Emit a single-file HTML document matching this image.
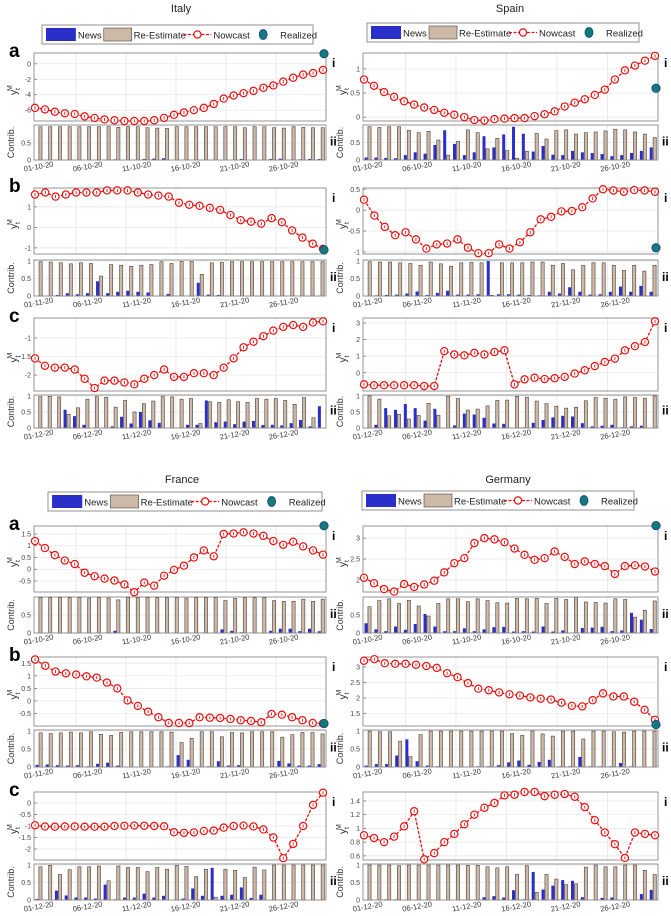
<!DOCTYPE html>
<html><head><meta charset="utf-8">
<style>
html,body{margin:0;padding:0;background:#fff;}
svg{display:block;font-family:"Liberation Sans",sans-serif;}
</style></head>
<body>
<svg id="fig" width="671" height="916" viewBox="0 0 671 916" xmlns="http://www.w3.org/2000/svg"></svg>
<script>
// ---------- data ----------
const italyA = [-5.7,-5.9,-6.2,-6.4,-6.5,-6.8,-7.0,-7.2,-7.3,-7.4,-7.4,-7.4,-7.3,-7.0,-6.6,-6.3,-6.0,-5.7,-5.2,-4.5,-4.1,-3.8,-3.5,-3.1,-2.8,-2.3,-1.8,-1.4,-1.2,-0.8];
const italyANews = [0,0,0,0,0,0,0,0,0.02,0,0,0.03,0.04,0.05,0,0,0,0,0,0,0,0.03,0,0,0.03,0.04,0,0.02,0.03,0.03];
const italyARe = [0.97,0.97,0.97,0.97,0.97,0.97,0.97,0.97,0.95,0.97,0.97,0.94,0.93,0.92,0.97,0.97,0.97,0.97,0.97,0.97,0.97,0.94,0.97,0.97,0.94,0.93,0.97,0.95,0.94,0.94];
const italyB = [1.6,1.7,1.5,1.6,1.7,1.7,1.7,1.8,1.8,1.8,1.7,1.6,1.55,1.5,1.2,1.1,1.05,0.95,0.85,0.6,0.35,0.28,0.18,0.45,0.25,-0.15,-0.5,-0.8,-1.05];
const italyBNews = [0,0,0.03,0.08,0.05,0.08,0.42,0.08,0.12,0.15,0.12,0.1,0.01,0.06,0,0,0.38,0.04,0.03,0,0.01,0,0,0,0,0,0,0,0.01];
const italyBRe = [0.98,0.97,0.95,0.92,0.95,0.93,0.57,0.9,0.88,0.85,0.88,0.9,0.98,0.93,0.99,0.99,0.62,0.95,0.96,0.98,0.98,0.98,0.98,0.98,0.98,0.98,0.98,0.98,0.98];
const italyC = [-1.55,-1.75,-1.8,-1.8,-1.85,-2.1,-2.35,-2.15,-2.15,-2.2,-2.25,-2.1,-2.0,-1.85,-2.05,-2.05,-1.95,-1.95,-2.0,-1.8,-1.55,-1.25,-1.1,-0.95,-0.8,-0.7,-0.65,-0.7,-0.58,-0.55];
const italyCNews = [0,0,0,0.57,0.37,0.1,0,0,0.05,0.35,0.14,0.5,0.24,0.16,0,0,0.1,0.1,0.86,0.18,0.2,0.12,0.2,0.22,0.09,0.1,0.08,0.15,0.25,0.05,0.68];
const italyCRe = [0.98,0.99,0.97,0.43,0.63,0.9,0.98,0.96,0.65,0.86,0.5,0.76,0.84,0.98,0.97,0.9,0.92,0.14,0.82,0.8,0.88,0.82,0.8,0.92,0.9,0.92,0.86,0.74,0.95,0.32];

const spainA = [0.78,0.65,0.52,0.42,0.33,0.26,0.2,0.15,0.09,0.05,0,-0.06,-0.07,-0.04,-0.03,-0.02,-0.02,0.02,0.06,0.12,0.22,0.3,0.37,0.46,0.57,0.78,0.97,1.07,1.17,1.27];
const spainANews = [0.07,0.07,0.06,0.05,0.14,0.22,0.18,0.43,0.85,0.46,0.14,0.22,0.68,0.36,0.73,0.95,0.75,0.24,0.4,0.15,0.14,0.26,0.22,0.2,0.17,0.11,0.14,0.2,0.26,0.36];
const spainARe = [0.95,0.93,0.95,0.95,0.85,0.78,0.82,0.57,0.14,0.53,0.86,0.78,0.32,0.62,0.27,0.05,0.25,0.76,0.6,0.84,0.86,0.74,0.78,0.8,0.83,0.88,0.86,0.8,0.74,0.64];
const spainB = [0.25,-0.13,-0.4,-0.6,-0.53,-0.7,-0.92,-0.82,-0.8,-0.7,-0.9,-1.03,-1.03,-0.82,-0.92,-0.77,-0.53,-0.22,-0.16,-0.03,-0.02,0.07,0.28,0.5,0.47,0.44,0.48,0.47,0.44];
const spainBNews = [0,0.02,0.03,0.04,0.07,0.13,0.03,0.09,0.15,0.04,0.04,0.05,1.0,0.05,0.05,0.04,0.03,0.02,0.12,0.07,0.25,0.12,0.04,0.05,0.12,0.27,0.12,0.29,0.12];
const spainBRe = [0.98,0.97,0.97,0.95,0.93,0.88,0.97,0.92,0.85,0.95,0.96,0.95,0.02,0.95,0.95,0.95,0.97,0.97,0.88,0.93,0.75,0.88,0.95,0.95,0.88,0.73,0.88,0.71,0.88];
const spainC = [-0.7,-0.75,-0.75,-0.75,-0.75,-0.75,-0.8,-0.8,1.3,1.1,1.05,1.2,1.1,1.25,1.35,-0.7,-0.4,-0.3,-0.38,-0.33,-0.25,-0.05,0.15,0.4,0.65,0.85,1.35,1.6,1.85,3.1];
const spainCNews = [0,0.1,0.62,0.57,0.75,0.62,0.23,0.6,0,0.08,0.45,0.42,0.32,0.14,0.13,0,0.02,0.16,0.25,0.33,0.38,0.36,0.15,0.05,0.07,0.1,0.02,0.05,0.07,0];
const spainCRe = [1,0.9,0.38,0.43,0.28,0.39,0.77,0.4,0.99,0.92,0.56,0.59,0.69,0.86,0.87,0.99,0.96,0.84,0.76,0.68,0.62,0.65,0.85,0.95,0.93,0.9,0.97,0.95,0.93,1];

const franceA = [1.2,0.9,0.6,0.37,0.22,-0.15,-0.3,-0.4,-0.48,-0.65,-0.98,-0.57,-0.7,-0.28,-0.03,0.15,0.5,0.8,0.55,1.5,1.52,1.57,1.52,1.42,1.2,1.04,1.17,0.97,0.8,0.62];
const franceANews = [0,0,0,0,0,0.01,0,0.01,0.06,0,0,0,0,0,0,0.01,0,0,0,0.1,0.06,0.02,0,0,0.06,0.12,0.12,0.05,0.12,0.05];
const franceARe = [0.98,0.98,0.98,0.98,0.98,0.97,0.98,0.97,0.92,0.98,0.98,0.98,0.98,0.98,0.98,0.97,0.98,0.98,0.98,0.9,0.96,0.98,0.98,0.98,0.9,0.88,0.88,0.94,0.88,0.94];
const franceB = [1.65,1.4,1.17,1.1,1.05,0.98,0.93,0.73,0.5,0.02,-0.2,-0.43,-0.65,-0.88,-0.88,-0.88,-0.65,-0.67,-0.68,-0.72,-0.77,-0.8,-0.85,-0.52,-0.55,-0.65,-0.77,-0.88,-0.9];
const franceBNews = [0.06,0.07,0.05,0.04,0.05,0.02,0.09,0.12,0.04,0,0,0,0,0.02,0.33,0.2,0.01,0.02,0.16,0.04,0.05,0,0,0,0.17,0.1,0.04,0.04,0.08];
const franceBRe = [0.95,0.93,0.95,0.97,0.95,0.98,0.91,0.88,0.96,0.98,0.98,0.98,0.98,0.97,0.68,0.8,0.98,0.98,0.84,0.96,0.95,0.98,0.98,0.98,0.83,0.9,0.96,0.96,0.92];
const franceC = [-0.97,-1.02,-1.03,-1.02,-1.02,-1.03,-1.03,-1.03,-1.0,-0.99,-0.98,-0.99,-1.0,-1.01,-1.27,-1.3,-1.28,-1.22,-1.2,-1.07,-1.0,-0.98,-1.02,-1.15,-1.5,-2.4,-1.78,-1.0,-0.08,0.45];
const franceCNews = [0.03,0,0.27,0.13,0.07,0.07,0.04,0.44,0.02,0.07,0.07,0.18,0.07,0.12,0,0.04,0.33,0.12,0.92,0.12,0.15,0.36,0.06,0.15,0,0,0,0,0,0];
const franceCRe = [0.95,0.99,0.73,0.87,0.95,0.95,0.97,0.55,0.97,0.93,0.93,0.81,0.93,0.88,0.99,0.96,0.67,0.88,0.08,0.88,0.85,0.64,0.94,0.86,1,1,1,1,1,1];

const germanyA = [2.05,1.92,1.78,1.72,1.9,1.83,1.89,1.98,2.18,2.4,2.52,2.88,3.0,2.97,2.9,2.75,2.6,2.48,2.52,2.68,2.55,2.38,2.44,2.38,2.33,2.14,2.33,2.35,2.32,2.2];
const germanyANews = [0.27,0.1,0.05,0.18,0.09,0.25,0.53,0.18,0.05,0.05,0.13,0.05,0.1,0.16,0.17,0.04,0.05,0.04,0.18,0.04,0.07,0.01,0.14,0.15,0.17,0.05,0.07,0.56,0.37,0.11];
const germanyARe = [0.73,0.9,0.95,0.82,0.91,0.75,0.47,0.82,0.95,0.95,0.87,0.95,0.9,0.84,0.83,0.96,0.95,0.96,0.82,0.96,0.93,0.99,0.86,0.85,0.83,0.95,0.93,0.44,0.63,0.89];
const germanyB = [3.2,3.25,3.12,3.1,3.1,3.07,3.03,2.97,2.8,2.67,2.48,2.3,2.25,2.18,2.12,2.08,2.02,1.98,1.95,1.85,1.75,1.73,1.93,2.15,2.05,2.05,1.88,1.62,1.3];
const germanyBNews = [0.04,0.08,0.08,0.32,0.77,0.16,0.04,0.02,0,0,0,0.02,0.02,0.05,0.13,0.18,0.06,0.14,0.2,0.02,0.02,0.28,0.02,0.02,0.02,0.11,0.02,0,0];
const germanyBRe = [1,0.98,0.98,0.72,0.29,0.9,1,1,1,1,1,1,1,1,0.93,0.88,1,0.92,0.86,1,1,0.78,1,1,0.98,0.97,1,1,1];
const germanyC = [0.9,0.86,0.8,0.88,1.03,1.25,0.55,0.64,0.8,0.92,1.06,1.2,1.3,1.37,1.48,1.49,1.53,1.53,1.47,1.49,1.5,1.46,1.31,1.12,0.94,0.77,0.57,0.94,0.92,0.9];
const germanyCNews = [0,0,0.02,0.02,0,0,0,0,0,0,0.01,0.01,0.08,0.11,0.07,0.28,0.02,0.8,0.3,0.41,0.57,0.55,0.08,0,0.06,0.07,0,0,0.17,0.29];
const germanyCRe = [1,1,1,0.98,1,1,1,1,1,1,0.99,0.99,0.95,0.92,0.95,0.73,0.98,0.22,0.73,0.6,0.44,0.46,0.94,1,0.95,0.95,1,1,0.85,0.73];

const realized = [1.3,-1.1,null, 0.6,-0.9,null, 1.85,-0.9,null, 3.3,1.15,null];
const tickDays = ["01","06","11","16","21","26"];
const months = ["10","11","12"];

// ---------- layout ----------
const NS="http://www.w3.org/2000/svg";
const svg=document.getElementById('fig');
function mk(tag,attrs,parent){const e=document.createElementNS(NS,tag);for(const k in attrs)e.setAttribute(k,attrs[k]);(parent||svg).appendChild(e);return e;}
const cols=[[34,326],[363,658]];
const rowsTop=[[53,121,125,160],[188,254,260,296],[318,391,395,428]];
const rowsBot=[[526,592,597,633],[657,726,730,767],[792,860,864,900]];

const panels=[
 {c:0,r:rowsTop[0],v:italyA,n:italyANews,t:italyARe,lo:-7.4,hi:1.4,ticks:[0,-2,-4,-6],rl:realized[0],m:0,let:'a',bt:[0,0.5],bhi:1.02},
 {c:0,r:rowsTop[1],v:italyB,n:italyBNews,t:italyBRe,lo:-1.3,hi:1.92,ticks:[1,0,-1],rl:realized[1],m:1,let:'b',bt:[0,0.5,1],bhi:1.03},
 {c:0,r:rowsTop[2],v:italyC,n:italyCNews,t:italyCRe,lo:-2.43,hi:-0.46,ticks:[-1,-1.5,-2],rl:realized[2],m:2,let:'c',bt:[0,0.5,1],bhi:1.03},
 {c:1,r:rowsTop[0],v:spainA,n:spainANews,t:spainARe,lo:-0.08,hi:1.33,ticks:[1,0.5,0],rl:realized[3],m:0,bt:[0,0.5],bhi:1.0},
 {c:1,r:rowsTop[1],v:spainB,n:spainBNews,t:spainBRe,lo:-1.05,hi:0.53,ticks:[0.5,0,-0.5,-1],rl:realized[4],m:1,bt:[0,0.5,1],bhi:1.03},
 {c:1,r:rowsTop[2],v:spainC,n:spainCNews,t:spainCRe,lo:-1.1,hi:3.3,ticks:[3,2,1,0],rl:realized[5],m:2,bt:[0,0.5,1],bhi:1.03},
 {c:0,r:rowsBot[0],v:franceA,n:franceANews,t:franceARe,lo:-0.97,hi:1.84,ticks:[1.5,1,0.5,0,-0.5],rl:realized[6],m:0,let:'a',bt:[0,0.5],bhi:1.0},
 {c:0,r:rowsBot[1],v:franceB,n:franceBNews,t:franceBRe,lo:-1.0,hi:1.75,ticks:[1.5,1,0.5,0,-0.5],rl:realized[7],m:1,let:'b',bt:[0,0.5,1],bhi:1.03},
 {c:0,r:rowsBot[2],v:franceC,n:franceCNews,t:franceCRe,lo:-2.48,hi:0.48,ticks:[0,-0.5,-1,-1.5,-2],rl:realized[8],m:2,let:'c',bt:[0,0.5,1],bhi:1.03},
 {c:1,r:rowsBot[0],v:germanyA,n:germanyANews,t:germanyARe,lo:1.71,hi:3.29,ticks:[3,2.5,2],rl:realized[9],m:0,bt:[0,0.5],bhi:1.0},
 {c:1,r:rowsBot[1],v:germanyB,n:germanyBNews,t:germanyBRe,lo:1.1,hi:3.32,ticks:[3,2.5,2,1.5],rl:realized[10],m:1,bt:[0,0.5,1],bhi:1.03},
 {c:1,r:rowsBot[2],v:germanyC,n:germanyCNews,t:germanyCRe,lo:0.54,hi:1.53,ticks:[1.4,1.2,1,0.8,0.6],rl:realized[11],m:2,bt:[0,0.5,1],bhi:1.03}
];

function drawPanel(p,idx){
  const [x0,x1]=cols[p.c]; const [ly0,ly1,by0,by1]=p.r; const W=x1-x0;
  const g=mk('g',{});
  
  
  const yS=v=>ly1-(v-p.lo)/(p.hi-p.lo)*(ly1-ly0);
  const bS=v=>by1-v/p.bhi*(by1-by0);
  const N=p.v.length;
  const xS=i=>x0+1+i*(W-4)/(N-1);
  const gx=k=>x0+42*W/292+k*50*W/292;
  const lx=k=>x0+5*W/292+k*49*W/292;
  mk('rect',{x:x0,y:ly0,width:W,height:ly1-ly0,fill:'#fff',stroke:'none'},g);
  mk('rect',{x:x0,y:by0,width:W,height:by1-by0,fill:'#fff',stroke:'none'},g);
  for(let k=0;k<5;k++){
    mk('line',{x1:gx(k),x2:gx(k),y1:ly0,y2:ly1,stroke:'#e2e2e2','stroke-width':0.7},g);
    mk('line',{x1:gx(k),x2:gx(k),y1:by0,y2:by1,stroke:'#e2e2e2','stroke-width':0.7},g);
  }
  p.ticks.forEach(t=>{const y=yS(t);
    mk('line',{x1:x0,x2:x1,y1:y,y2:y,stroke:'#e6e6e6','stroke-width':0.7},g);
    mk('line',{x1:x0,x2:x0+3,y1:y,y2:y,stroke:'#666','stroke-width':0.7},g);
    const tx=mk('text',{x:x0-3,y:y+2.5,'font-size':7,'text-anchor':'end',fill:'#444'},g);tx.textContent=String(t);
    });
  p.bt.forEach(t=>{const y=bS(t);
    mk('line',{x1:x0,x2:x1,y1:y,y2:y,stroke:'#e6e6e6','stroke-width':0.7},g);
    const tx=mk('text',{x:x0-3,y:y+2.5,'font-size':7,'text-anchor':'end',fill:'#444'},g);tx.textContent=String(t);
    });
  const M=p.n.length; const gw=W/M;
  for(let i=0;i<M;i++){
    const c=x0+(i+0.5)*gw;
    const bh=by1-bS(p.n[i]);
    const b=mk('rect',{x:c-3.4,y:by1-bh,width:3,height:bh,fill:'#2b2fc9'},g);
    
    if(i<p.t.length){const th=by1-bS(p.t[i]);
      const r=mk('rect',{x:c,y:by1-th,width:3.2,height:th,fill:'#cdb9a8',stroke:'#4a3f38','stroke-width':0.6},g);
      }
  }
  mk('rect',{x:x0,y:ly0,width:W,height:ly1-ly0,fill:'none',stroke:'#8a8a8a','stroke-width':0.9},g);
  mk('rect',{x:x0,y:by0,width:W,height:by1-by0,fill:'none',stroke:'#8a8a8a','stroke-width':0.9},g);
  const pts=p.v.map((v,i)=>xS(i).toFixed(1)+','+yS(v).toFixed(1)).join(' ');
  const pl=mk('polyline',{points:pts,fill:'none',stroke:'#e81010','stroke-width':1.3,'stroke-dasharray':'3,1.5'},g);
  
  p.v.forEach((v,i)=>{const cx=xS(i),cy=yS(v);
    const m=mk('circle',{cx:cx,cy:cy,r:3.6,fill:'#fff',stroke:'#e81010','stroke-width':1.2},g);
    
    mk('line',{x1:cx,x2:cx,y1:cy-1.5,y2:cy+1.5,stroke:'#e81010','stroke-width':0.9},g);});
  if(p.rl!==null){const rc=mk('circle',{cx:x1-2,cy:yS(p.rl),r:4.2,fill:'#137a7a',stroke:'#1c3f8a','stroke-width':0.8},g);
    }
  tickDays.forEach((d,k)=>{const x=lx(k);const y=by1+9;
    const tx=mk('text',{x:x,y:y,'font-size':7.5,'text-anchor':'middle',fill:'#333',transform:'rotate(-10 '+x+' '+y+')'},g);
    tx.textContent=d+'-'+months[p.m]+'-20';
    });
  const yl=mk('text',{x:0,y:0,'font-size':10,fill:'#333',transform:'translate('+(x0-17)+','+((ly0+ly1)/2+8)+') rotate(-90)'},g);
  yl.innerHTML='y<tspan font-size="7" dy="3">t</tspan><tspan font-size="7" dx="-3" dy="-8">M</tspan>';
  
  const cl=mk('text',{x:0,y:0,'font-size':9,fill:'#333','text-anchor':'middle',transform:'translate('+(x0-20)+','+((by0+by1)/2)+') rotate(-90)'},g);
  cl.textContent='Contrib.';
  
  const i1=mk('text',{x:x1+6,y:ly0+14,'font-size':12,'font-weight':'bold',fill:'#000'},g);i1.textContent='i';
  
  const i2=mk('text',{x:x1+4,y:(by0+by1)/2+3,'font-size':12,'font-weight':'bold',fill:'#000'},g);i2.textContent='ii';
  
  if(p.let){const L=mk('text',{x:9,y:ly0+4,'font-size':19,'font-weight':'bold',fill:'#000'},g);L.textContent=p.let;
    }
}
panels.forEach(drawPanel);

function title(txt,x,y){const t=mk('text',{x:x,y:y,'font-size':11,'text-anchor':'middle',fill:'#222'});t.textContent=txt;
  }
title('Italy',181,12);title('Spain',510,12);title('France',182,483);title('Germany',508,483);
function legend(x,y,w){
  const g=mk('g',{});
  
  
  const s=w/272;
  mk('rect',{x:x,y:y,width:w,height:19,fill:'#fff',stroke:'#777','stroke-width':0.8},g);
  mk('rect',{x:x+4*s,y:y+3,width:30*s,height:13,fill:'#2b2fc9'},g);
  let t=mk('text',{x:x+36*s,y:y+13.5,'font-size':9.5,fill:'#222'},g);t.textContent='News';
  mk('rect',{x:x+62*s,y:y+3,width:28*s,height:13,fill:'#cdb9a8',stroke:'#4a3f38','stroke-width':0.6},g);
  t=mk('text',{x:x+92*s,y:y+13.5,'font-size':9.5,fill:'#222'},g);t.textContent='Re-Estimate';
  mk('line',{x1:x+142*s,x2:x+170*s,y1:y+9.5,y2:y+9.5,stroke:'#e81010','stroke-width':1.3,'stroke-dasharray':'3,1.5'},g);
  mk('circle',{cx:x+156*s,cy:y+9.5,r:3.6,fill:'#fff',stroke:'#e81010','stroke-width':1.2},g);
  t=mk('text',{x:x+172*s,y:y+13.5,'font-size':9.5,fill:'#222'},g);t.textContent='Nowcast';
  mk('ellipse',{cx:x+222*s,cy:y+9.5,rx:4,ry:5,fill:'#137a7a',stroke:'#1c3f8a','stroke-width':0.8},g);
  t=mk('text',{x:x+239*s,y:y+13.5,'font-size':9.5,fill:'#222'},g);t.textContent='Realized';
}
legend(42,25,271);legend(367,23,272);legend(48,492,274);legend(362,491,272);
</script>
</body></html>
